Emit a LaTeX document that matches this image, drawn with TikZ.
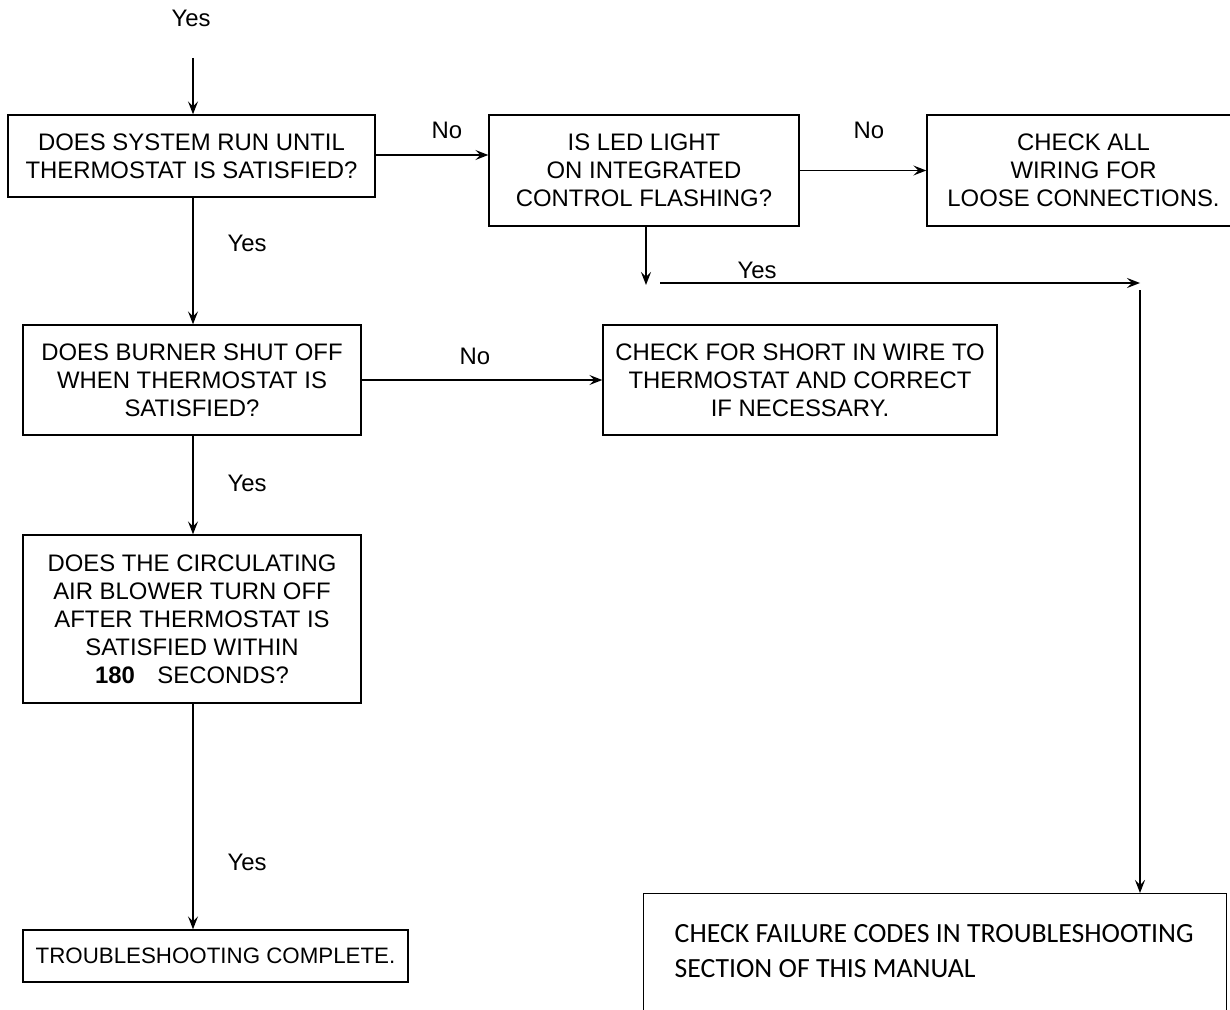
\documentclass[tikz,border=0pt]{standalone}
\usepackage{fontspec}
\setmainfont{Liberation Sans}
\newfontfamily\calibrifont{Carlito}
\usepackage{tikz}
\usetikzlibrary{positioning, arrows.meta, calc}
\tikzset{
  stepbox/.style={
    rectangle, draw=black, line width=0.8pt,
    inner sep=0pt, align=center,
    font=\fontsize{13.6}{16}\selectfont
  },
  answer/.style={font=\fontsize{13.6}{16}\selectfont},
  flowarrow/.style={
    -{Stealth[length=2.6mm, width=2.0mm, inset=1.0mm]},
    black, line width=0.9pt
  }
}
\begin{document}
\begin{tikzpicture}[x=0.02cm, y=-0.02cm]
      \useasboundingbox (0,0) rectangle (1230,1010);
      \clip (0,0) rectangle (1230,1010);
      \node[stepbox, minimum width=7.34cm, minimum height=1.64cm] (run) at (191.5,156) {DOES SYSTEM RUN UNTIL\\THERMOSTAT IS SATISFIED?};
      \node[stepbox, minimum width=6.2cm, minimum height=2.22cm] (led) at (644,170.5) {IS LED LIGHT\\ON INTEGRATED\\CONTROL FLASHING?};
      \node[stepbox, minimum width=6.26cm, minimum height=2.22cm] (wiring) at (1083.5,170.5) {CHECK ALL\\WIRING FOR\\LOOSE CONNECTIONS.};
      \node[stepbox, minimum width=6.76cm, minimum height=2.2cm] (burner) at (192,380) {DOES BURNER SHUT OFF\\WHEN THERMOSTAT IS\\SATISFIED?};
      \node[stepbox, minimum width=7.88cm, minimum height=2.2cm] (short) at (800,380) {CHECK FOR SHORT IN WIRE TO\\THERMOSTAT AND CORRECT\\IF NECESSARY.};
      \node[stepbox, minimum width=6.76cm, minimum height=3.36cm] (blower) at (192,619) {DOES THE CIRCULATING\\AIR BLOWER TURN OFF\\AFTER THERMOSTAT IS\\SATISFIED WITHIN\\{\bfseries 180}\hspace{0.45cm}SECONDS?\hspace{0.2cm}};
      \node[stepbox, minimum width=7.7cm, minimum height=1.04cm, font=\fontsize{12.7}{15}\selectfont] (done) at (215.5,956) {TROUBLESHOOTING COMPLETE.};
      \node[stepbox, anchor=north west, inner ysep=0.62cm, font=\calibrifont\fontsize{15.8}{19.8}\selectfont] (codes) at (643,893) {\parbox[t][3cm][t]{11.66cm}{\raggedright\leftskip=0.62cm CHECK FAILURE CODES IN TROUBLESHOOTING\\SECTION OF THIS MANUAL}};
      \coordinate (entry) at (193,58);
      \coordinate (ledend) at (646,285);
      \coordinate (yesstart) at (660,283);
      \coordinate (yesturn) at (1140,283);
      \coordinate (yesdown) at (1140,290);
      \node[answer] (yestop) at (191,18) {Yes};
      \node[answer] (norun) at (447,130) {No};
      \node[answer] (noled) at (869,130) {No};
      \node[answer] (yesrun) at (247,243) {Yes};
      \node[answer] (noburner) at (475,356) {No};
      \node[answer] (yesburner) at (247,483) {Yes};
      \node[answer] (yesblower) at (247,862) {Yes};
      \node[answer] (yesled) at (757,270) {Yes};
      \draw[flowarrow] (entry) -- (entry |- run.north);
      \draw[flowarrow] ($(run.east)+(0,-1)$) -- ($(run.east -| led.west)+(0,-1)$);
      \draw[flowarrow] (led.east) -- (wiring.west);
      \draw[flowarrow] (led.south -| ledend) -- (ledend);
      \draw[flowarrow] (yesstart) -- (yesturn);
      \draw[flowarrow] (yesdown) -- (yesdown |- codes.north);
      \draw[flowarrow] (run.south -| entry) -- (burner.north -| entry);
      \draw[flowarrow] (burner.east) -- (short.west);
      \draw[flowarrow] (burner.south -| entry) -- (blower.north -| entry);
      \draw[flowarrow] (blower.south -| entry) -- (done.north -| entry);
    \end{tikzpicture}
\end{document}
